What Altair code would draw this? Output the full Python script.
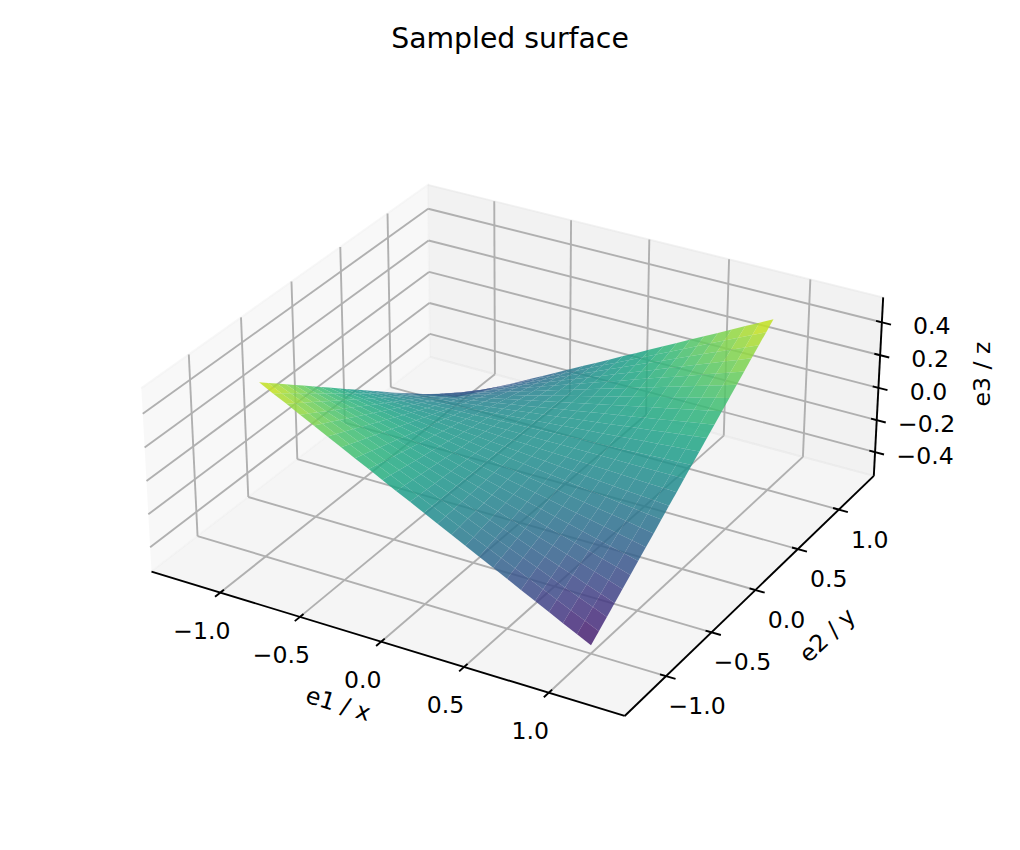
import altair as alt
import numpy as np
import pandas as pd

# sampled surface
x_values = [-1.0, -.917, -.833, -.75, -.667, -.583, -.5, -.417, -.333, -.25, -.167, -.083, 0.0,
            .083, .167, .25, .333, .417, .5, .583, .667, .75, .833, .917, 1.0]
y_values = [-1.0, -.917, -.833, -.75, -.667, -.583, -.5, -.417, -.333, -.25, -.167, -.083, 0.0,
            .083, .167, .25, .333, .417, .5, .583, .667, .75, .833, .917, 1.0]
# one row per x value, one column per y value
z_values = [
    [.5, .458, .417, .375, .333, .292, .25, .208, .167, .125, .083, .042, 0, -.042, -.083, -.125, -.167, -.208, -.25, -.292, -.333, -.375, -.417, -.458, -.5],
    [.458, .42, .382, .344, .306, .267, .229, .191, .153, .115, .076, .038, 0, -.038, -.076, -.115, -.153, -.191, -.229, -.267, -.306, -.344, -.382, -.42, -.458],
    [.417, .382, .347, .313, .278, .243, .208, .174, .139, .104, .069, .035, 0, -.035, -.069, -.104, -.139, -.174, -.208, -.243, -.278, -.313, -.347, -.382, -.417],
    [.375, .344, .313, .281, .25, .219, .188, .156, .125, .094, .063, .031, 0, -.031, -.063, -.094, -.125, -.156, -.188, -.219, -.25, -.281, -.313, -.344, -.375],
    [.333, .306, .278, .25, .222, .194, .167, .139, .111, .083, .056, .028, 0, -.028, -.056, -.083, -.111, -.139, -.167, -.194, -.222, -.25, -.278, -.306, -.333],
    [.292, .267, .243, .219, .194, .17, .146, .122, .097, .073, .049, .024, 0, -.024, -.049, -.073, -.097, -.122, -.146, -.17, -.194, -.219, -.243, -.267, -.292],
    [.25, .229, .208, .188, .167, .146, .125, .104, .083, .063, .042, .021, 0, -.021, -.042, -.063, -.083, -.104, -.125, -.146, -.167, -.188, -.208, -.229, -.25],
    [.208, .191, .174, .156, .139, .122, .104, .087, .069, .052, .035, .017, 0, -.017, -.035, -.052, -.069, -.087, -.104, -.122, -.139, -.156, -.174, -.191, -.208],
    [.167, .153, .139, .125, .111, .097, .083, .069, .056, .042, .028, .014, 0, -.014, -.028, -.042, -.056, -.069, -.083, -.097, -.111, -.125, -.139, -.153, -.167],
    [.125, .115, .104, .094, .083, .073, .063, .052, .042, .031, .021, .01, 0, -.01, -.021, -.031, -.042, -.052, -.063, -.073, -.083, -.094, -.104, -.115, -.125],
    [.083, .076, .069, .063, .056, .049, .042, .035, .028, .021, .014, .007, 0, -.007, -.014, -.021, -.028, -.035, -.042, -.049, -.056, -.063, -.069, -.076, -.083],
    [.042, .038, .035, .031, .028, .024, .021, .017, .014, .01, .007, .003, 0, -.003, -.007, -.01, -.014, -.017, -.021, -.024, -.028, -.031, -.035, -.038, -.042],
    [0, 0, 0, 0, 0, 0, 0, 0, 0, 0, 0, 0, 0, 0, 0, 0, 0, 0, 0, 0, 0, 0, 0, 0, 0],
    [-.042, -.038, -.035, -.031, -.028, -.024, -.021, -.017, -.014, -.01, -.007, -.003, 0, .003, .007, .01, .014, .017, .021, .024, .028, .031, .035, .038, .042],
    [-.083, -.076, -.069, -.063, -.056, -.049, -.042, -.035, -.028, -.021, -.014, -.007, 0, .007, .014, .021, .028, .035, .042, .049, .056, .063, .069, .076, .083],
    [-.125, -.115, -.104, -.094, -.083, -.073, -.063, -.052, -.042, -.031, -.021, -.01, 0, .01, .021, .031, .042, .052, .063, .073, .083, .094, .104, .115, .125],
    [-.167, -.153, -.139, -.125, -.111, -.097, -.083, -.069, -.056, -.042, -.028, -.014, 0, .014, .028, .042, .056, .069, .083, .097, .111, .125, .139, .153, .167],
    [-.208, -.191, -.174, -.156, -.139, -.122, -.104, -.087, -.069, -.052, -.035, -.017, 0, .017, .035, .052, .069, .087, .104, .122, .139, .156, .174, .191, .208],
    [-.25, -.229, -.208, -.188, -.167, -.146, -.125, -.104, -.083, -.063, -.042, -.021, 0, .021, .042, .063, .083, .104, .125, .146, .167, .188, .208, .229, .25],
    [-.292, -.267, -.243, -.219, -.194, -.17, -.146, -.122, -.097, -.073, -.049, -.024, 0, .024, .049, .073, .097, .122, .146, .17, .194, .219, .243, .267, .292],
    [-.333, -.306, -.278, -.25, -.222, -.194, -.167, -.139, -.111, -.083, -.056, -.028, 0, .028, .056, .083, .111, .139, .167, .194, .222, .25, .278, .306, .333],
    [-.375, -.344, -.313, -.281, -.25, -.219, -.188, -.156, -.125, -.094, -.063, -.031, 0, .031, .063, .094, .125, .156, .188, .219, .25, .281, .313, .344, .375],
    [-.417, -.382, -.347, -.313, -.278, -.243, -.208, -.174, -.139, -.104, -.069, -.035, 0, .035, .069, .104, .139, .174, .208, .243, .278, .313, .347, .382, .417],
    [-.458, -.42, -.382, -.344, -.306, -.267, -.229, -.191, -.153, -.115, -.076, -.038, 0, .038, .076, .115, .153, .191, .229, .267, .306, .344, .382, .42, .458],
    [-.5, -.458, -.417, -.375, -.333, -.292, -.25, -.208, -.167, -.125, -.083, -.042, 0, .042, .083, .125, .167, .208, .25, .292, .333, .375, .417, .458, .5],
]

x_ticks = [-1.0, -0.5, 0.0, 0.5, 1.0]
y_ticks = [-1.0, -0.5, 0.0, 0.5, 1.0]
z_ticks = [-0.4, -0.2, 0.0, 0.2, 0.4]
x_tick_labels = ['−1.0', '−0.5', '0.0', '0.5', '1.0']
y_tick_labels = ['−1.0', '−0.5', '0.0', '0.5', '1.0']
z_tick_labels = ['−0.4', '−0.2', '0.0', '0.2', '0.4']

XY_LIM = 1.44
Z_LIM = 0.55
COLOR_LIM = 0.56

# camera: elev 30, azim -60, box 1 : 1 : 0.41
BOX_XY = 0.65
BOX_Z = 0.2665
DIST = 10.0
U = np.array([0.866, 0.5, 0.0])
V = np.array([-0.25, 0.433, 0.866])
W = np.array([0.433, -0.75, 0.5])
SCALE_X, SCALE_Y = 4120, 3920
CENTER_X, CENTER_Y = 520, 433.5


def project(x, y, z):
    q = np.array([x / XY_LIM * BOX_XY, y / XY_LIM * BOX_XY, z / Z_LIM * BOX_Z])
    d = DIST - W.dot(q)
    return CENTER_X + SCALE_X * U.dot(q) / d, CENTER_Y - SCALE_Y * V.dot(q) / d, d


def polygon_rows(corners, name):
    rows = []
    for i, c in enumerate(corners):
        px, py, _ = project(*c)
        rows.append({'poly': name, 'i': i, 'px': px, 'py': py})
    return rows


def segment(a, b):
    ax, ay, _ = project(*a)
    bx, by, _ = project(*b)
    return {'px': ax, 'py': ay, 'px2': bx, 'py2': by}


X_ENC = alt.X('px:Q', axis=None, scale=alt.Scale(domain=[8, 1012], nice=False, zero=False))
Y_ENC = alt.Y('py:Q', axis=None, scale=alt.Scale(domain=[842, 8], nice=False, zero=False))

# panes
L, Z = XY_LIM, Z_LIM
panes = [
    ([(-L, -L, -Z), (-L, L, -Z), (-L, L, Z), (-L, -L, Z)], '#f2f2f2'),
    ([(-L, L, -Z), (L, L, -Z), (L, L, Z), (-L, L, Z)], '#e6e6e6'),
    ([(-L, -L, -Z), (L, -L, -Z), (L, L, -Z), (-L, L, -Z)], '#ececec'),
]
layers = []
for corners, colour in panes:
    layers.append(
        alt.Chart(pd.DataFrame(polygon_rows(corners, 'pane'))).mark_line(
            filled=True, fill=colour, fillOpacity=0.5, stroke=colour, strokeOpacity=0.5, strokeWidth=1.9
        ).encode(x=X_ENC, y=Y_ENC, order='i:Q')
    )

# grid lines run along the floor and then up the walls
grid = []
for t in x_ticks:
    grid.append(segment((t, -L, -Z), (t, L, -Z)))
    grid.append(segment((t, L, -Z), (t, L, Z)))
for t in y_ticks:
    grid.append(segment((L, t, -Z), (-L, t, -Z)))
    grid.append(segment((-L, t, -Z), (-L, t, Z)))
for t in z_ticks:
    grid.append(segment((-L, -L, t), (-L, L, t)))
    grid.append(segment((-L, L, t), (L, L, t)))
layers.append(
    alt.Chart(pd.DataFrame(grid)).mark_rule(color='#b0b0b0', strokeWidth=1.9).encode(
        x=X_ENC, y=Y_ENC, x2='px2:Q', y2='py2:Q'
    )
)

# axis lines and ticks
lines = [
    segment((-L, -L, -Z), (L, -L, -Z)),
    segment((L, -L, -Z), (L, L, -Z)),
    segment((L, L, -Z), (L, L, Z)),
]
for t in x_ticks:
    lines.append(segment((t, -L + 0.035, -Z), (t, -L - 0.05, -Z)))
for t in y_ticks:
    lines.append(segment((L - 0.035, t, -Z), (L + 0.055, t, -Z)))
for t in z_ticks:
    lines.append(segment((L - 0.035, L, t), (L + 0.055, L, t)))
layers.append(
    alt.Chart(pd.DataFrame(lines)).mark_rule(color='black', strokeWidth=1.9).encode(
        x=X_ENC, y=Y_ENC, x2='px2:Q', y2='py2:Q'
    )
)

# surface cells, far ones first
cells = []
for i in range(len(x_values) - 1):
    for j in range(len(y_values) - 1):
        corners = [
            (x_values[i], y_values[j], z_values[i][j]),
            (x_values[i + 1], y_values[j], z_values[i + 1][j]),
            (x_values[i + 1], y_values[j + 1], z_values[i + 1][j + 1]),
            (x_values[i], y_values[j + 1], z_values[i][j + 1]),
        ]
        depth = np.mean([project(*c)[2] for c in corners])
        cells.append((depth, i, j, corners, np.mean([c[2] for c in corners])))
cells.sort(key=lambda c: -c[0])

surface_rows = []
for n, (depth, i, j, corners, zmean) in enumerate(cells):
    for row in polygon_rows(corners, n):
        row['zmean'] = zmean
        surface_rows.append(row)
surface = pd.DataFrame(surface_rows)

layers.append(
    alt.Chart(surface).mark_line(filled=True, opacity=0.85).encode(
        x=X_ENC,
        y=Y_ENC,
        detail='poly:N',
        order='i:Q',
        color=alt.Color('zmean:Q', legend=None,
                        scale=alt.Scale(scheme='viridis', domain=[-COLOR_LIM, COLOR_LIM])),
    )
)


def text_layer(rows, size=23.6):
    return alt.Chart(pd.DataFrame(rows)).mark_text(
        font='DejaVu Sans', fontSize=size, color='black', align='center', baseline='middle'
    )


tick_text = []
for t, lab in zip(x_ticks, x_tick_labels):
    px, py, _ = project(t, -L, -Z)
    tick_text.append({'px': px - 18.5, 'py': py + 39, 'label': lab})
for t, lab in zip(y_ticks, y_tick_labels):
    px, py, _ = project(L, t, -Z)
    tick_text.append({'px': px + 31, 'py': py + 31, 'label': lab})
for t, lab in zip(z_ticks, z_tick_labels):
    px, py, _ = project(L, L, t)
    tick_text.append({'px': px + 50, 'py': py + 5, 'label': lab})
layers.append(text_layer(tick_text).encode(x=X_ENC, y=Y_ENC, text='label:N'))

# axis titles and chart title
axis_titles = [
    ('e1 / x', 338, 705, 17),
    ('e2 / y', 828, 636, 317),
    ('e3 / z', 983, 374, 270),
]
for label, px, py, angle in axis_titles:
    layers.append(
        alt.Chart(pd.DataFrame([{'px': px, 'py': py, 'label': label}])).mark_text(
            font='DejaVu Sans', fontSize=23.6, color='black', align='center', baseline='middle', angle=angle
        ).encode(x=X_ENC, y=Y_ENC, text='label:N')
    )
layers.append(
    text_layer([{'px': 510, 'py': 40, 'label': 'Sampled surface'}], size=28.3).encode(
        x=X_ENC, y=Y_ENC, text='label:N'
    )
)

chart = alt.layer(*layers).properties(
    width=1004,
    height=834,
    padding=0,
    autosize=alt.AutoSizeParams(type='none'),
    background='white',
).configure_view(strokeWidth=0)

chart.save("out.html", embed_options={"renderer": "svg", "actions": False})
